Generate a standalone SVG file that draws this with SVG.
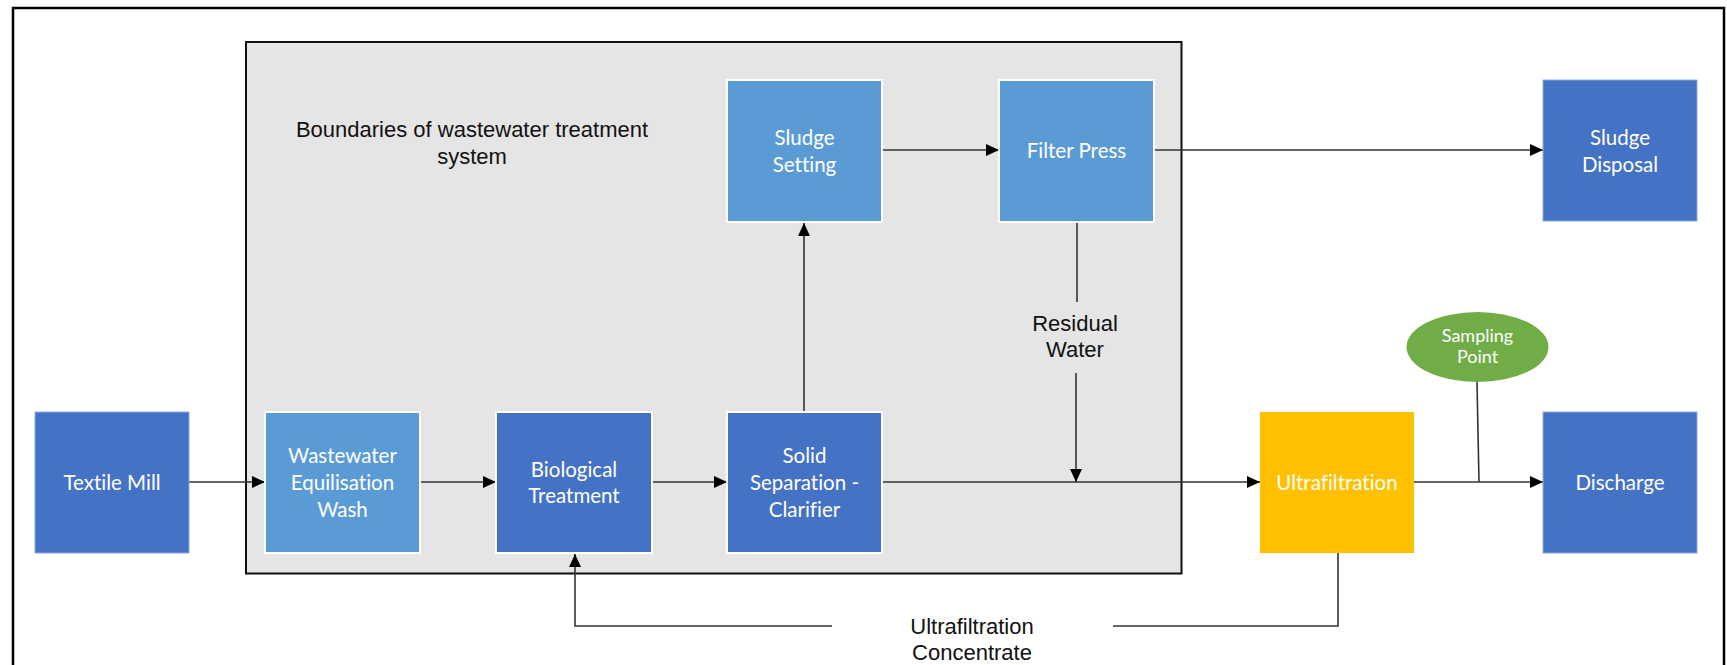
<svg xmlns="http://www.w3.org/2000/svg" width="1727" height="665" viewBox="0 0 1727 665">
  <style>
    .frame { fill: none; stroke: #000; stroke-width: 2.5; }
    .boundary { fill: #e5e5e5; stroke: #111; stroke-width: 2; }
    .box { stroke: #fff; stroke-width: 2; }
    .edge { stroke: #8faadc; stroke-width: 1; }
    .dark { fill: #4472c4; }
    .light { fill: #5b9bd5; }
    .yellow { fill: #ffc000; }
    .green { fill: #70ad47; }
    .ntext { font-family: Lato, "Open Sans", sans-serif; font-size: 20.5px; fill: #fff; text-anchor: middle; font-variant-ligatures: none; }
    .stext { font-family: Lato, "Open Sans", sans-serif; font-size: 18px; fill: #fff; text-anchor: middle; font-variant-ligatures: none; }
    .label { font-family: "Liberation Sans", Arial, sans-serif; font-size: 22px; fill: #111; text-anchor: middle; }
    .conn { fill: none; stroke: #333; stroke-width: 1.6; }
    .arrow { marker-end: url(#head); }
  </style>
  <defs>
    <marker id="head" viewBox="0 0 13 12" refX="13" refY="6" markerWidth="13" markerHeight="12" markerUnits="userSpaceOnUse" orient="auto">
      <path d="M0,0 L13,6 L0,12 Z" fill="#000"/>
    </marker>
  </defs>

  <rect width="1727" height="665" fill="#fff"/>

  <!-- outer frame (bottom edge runs past the page) -->
  <path class="frame" d="M13,675 V8 H1724 V675"/>

  <!-- treatment system boundary -->
  <g id="boundary">
    <rect class="boundary" x="246" y="42" width="935.5" height="531.5"/>
    <text class="label" x="472" y="137">Boundaries of wastewater treatment</text>
    <text class="label" x="472" y="164">system</text>
  </g>

  <!-- connectors -->
  <g id="connectors">
    <path class="conn arrow" d="M189,482 H265"/>
    <path class="conn arrow" d="M420,482 H496"/>
    <path class="conn arrow" d="M652,482 H727"/>
    <path class="conn arrow" d="M882,482 H1260"/>
    <path class="conn arrow" d="M804,412 V223"/>
    <path class="conn arrow" d="M882,150 H999"/>
    <path class="conn arrow" d="M1154,150 H1543"/>
    <path class="conn" d="M1077,222 V302"/>
    <path class="conn arrow" d="M1076,373 V482"/>
    <path class="conn arrow" d="M1414,482 H1543"/>
    <path class="conn" d="M1477,382 L1479,482"/>
    <path class="conn" d="M1338,553 V626 H1113"/>
    <path class="conn arrow" d="M832,626 H575 V554"/>
    <text class="label" x="1075" y="331">Residual</text>
    <text class="label" x="1075" y="357">Water</text>
    <text class="label" x="972" y="634">Ultrafiltration</text>
    <text class="label" x="972" y="660">Concentrate</text>
  </g>

  <g id="textile-mill">
    <rect class="dark edge" x="35" y="412" width="154" height="141"/>
    <text class="ntext" x="112" y="490">Textile Mill</text>
  </g>

  <g id="equalisation">
    <rect class="box light" x="265" y="412" width="155" height="141"/>
    <text class="ntext" x="342.5" y="463">Wastewater</text>
    <text class="ntext" x="342.5" y="490">Equilisation</text>
    <text class="ntext" x="342.5" y="516.5">Wash</text>
  </g>

  <g id="biological">
    <rect class="box dark" x="496" y="412" width="156" height="141"/>
    <text class="ntext" x="574" y="476.5">Biological</text>
    <text class="ntext" x="574" y="503">Treatment</text>
  </g>

  <g id="clarifier">
    <rect class="box dark" x="727" y="412" width="155" height="141"/>
    <text class="ntext" x="804.5" y="463">Solid</text>
    <text class="ntext" x="804.5" y="490">Separation -</text>
    <text class="ntext" x="804.5" y="516.5">Clarifier</text>
  </g>

  <g id="sludge-setting">
    <rect class="box light" x="727" y="80" width="155" height="142"/>
    <text class="ntext" x="804.5" y="145">Sludge</text>
    <text class="ntext" x="804.5" y="171.5">Setting</text>
  </g>

  <g id="filter-press">
    <rect class="box light" x="999" y="80" width="155" height="142"/>
    <text class="ntext" x="1076.5" y="158">Filter Press</text>
  </g>

  <g id="sludge-disposal">
    <rect class="dark edge" x="1543" y="80" width="154" height="141"/>
    <text class="ntext" x="1620" y="145">Sludge</text>
    <text class="ntext" x="1620" y="171.5">Disposal</text>
  </g>

  <g id="ultrafiltration">
    <rect class="yellow" x="1260" y="412" width="154" height="141"/>
    <text class="ntext" x="1337" y="489.5">Ultrafiltration</text>
  </g>

  <g id="sampling-point">
    <ellipse class="green" cx="1477.5" cy="347" rx="71" ry="35"/>
    <text class="stext" x="1477.5" y="341.5">Sampling</text>
    <text class="stext" x="1477.5" y="362.5">Point</text>
  </g>

  <g id="discharge">
    <rect class="dark edge" x="1543" y="412" width="154" height="141"/>
    <text class="ntext" x="1620" y="490">Discharge</text>
  </g>
</svg>
